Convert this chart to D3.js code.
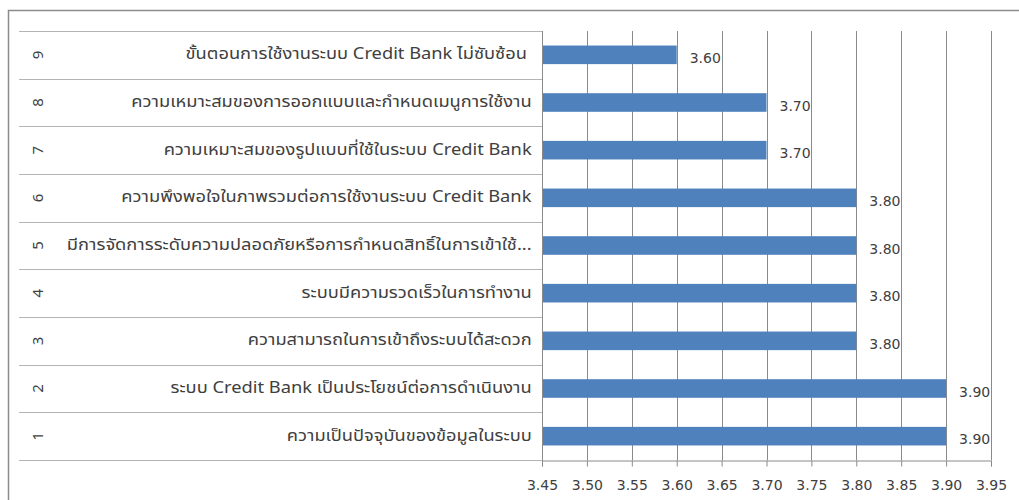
<!DOCTYPE html>
<html><head><meta charset="utf-8">
<script src="https://cdn.jsdelivr.net/npm/d3@7"></script>
<style>
html,body{margin:0;padding:0;background:#fff;}
svg{display:block;}
text{font-family:Tahoma,"Noto Sans Thai","Noto Sans","DejaVu Sans",sans-serif;fill:#404040;}
</style></head>
<body>
<svg id="chart" width="1019" height="500"></svg>
<script>
const categoryNumbers = ["9","8","7","6","5","4","3","2","1"];
const categoryLabels = [
  "ขั้นตอนการใช้งานระบบ  Credit Bank ไม่ซับซ้อน",
  "ความเหมาะสมของการออกแบบและกำหนดเมนูการใช้งาน",
  "ความเหมาะสมของรูปแบบที่ใช้ในระบบ Credit Bank",
  "ความพึงพอใจในภาพรวมต่อการใช้งานระบบ Credit Bank",
  "มีการจัดการระดับความปลอดภัยหรือการกำหนดสิทธิ์ในการเข้าใช้...",
  "ระบบมีความรวดเร็วในการทำงาน",
  "ความสามารถในการเข้าถึงระบบได้สะดวก",
  "ระบบ Credit Bank เป็นประโยชน์ต่อการดำเนินงาน",
  "ความเป็นปัจจุบันของข้อมูลในระบบ"
];
const values = [3.60, 3.70, 3.70, 3.80, 3.80, 3.80, 3.80, 3.90, 3.90];
const tickValues = [3.45, 3.50, 3.55, 3.60, 3.65, 3.70, 3.75, 3.80, 3.85, 3.90, 3.95];

const svg = d3.select("#chart");
const plot = {left: 542, right: 991, top: 31, bottom: 460};
const labelLeft = 19;
const labelRight = 532;
const labelFontSize = 15.5;
const labelStretch = 1.18;
const labelFont = `${labelFontSize}px Tahoma, "Noto Sans Thai", "Noto Sans", "DejaVu Sans", sans-serif`;

const x = d3.scaleLinear().domain([3.45, 3.95]).range([plot.left, plot.right]);
const y = d3.scaleBand().domain(categoryNumbers).range([plot.top, plot.bottom])
  .paddingInner(0.61).paddingOuter(0.305);
const step = y.step();

// outer border
svg.append("rect").attr("x", 8.5).attr("y", 10.5).attr("width", 1030).attr("height", 520)
  .attr("fill", "none").attr("stroke", "#8c8c8c").attr("stroke-width", 1.5);

// gridlines
svg.append("g").selectAll("line").data(tickValues.slice(1)).join("line")
  .attr("x1", d => Math.round(x(d)) + 0.5).attr("x2", d => Math.round(x(d)) + 0.5)
  .attr("y1", plot.top).attr("y2", plot.bottom)
  .attr("stroke", "#8a8a8a").attr("stroke-width", 1);

// category separators in label area
const bounds = categoryNumbers.map(c => y(c) - (step - y.bandwidth()) / 2);
bounds.push(plot.bottom);
svg.append("g").selectAll("line").data(bounds).join("line")
  .attr("x1", labelLeft).attr("x2", plot.left)
  .attr("y1", d => Math.round(d) + 0.5).attr("y2", d => Math.round(d) + 0.5)
  .attr("stroke", "#b4b4b4").attr("stroke-width", 1);

// bars
svg.append("g").selectAll("rect").data(values).join("rect")
  .attr("x", x(3.45) + 0.5)
  .attr("y", (d, i) => y(categoryNumbers[i]))
  .attr("width", d => x(d) - x(3.45) - 0.5)
  .attr("height", y.bandwidth())
  .attr("fill", "#4f81bd");

// x axis
const xAxis = d3.axisBottom(x).tickValues(tickValues).tickFormat(d3.format(".2f")).tickSizeOuter(0).tickSize(6).tickPadding(14);
const gx = svg.append("g").attr("transform", `translate(0,${plot.bottom + 0.5})`).call(xAxis);
gx.select(".domain").attr("stroke", "#8a8a8a");
gx.selectAll(".tick line").attr("stroke", "#8a8a8a");
gx.selectAll(".tick text").attr("font-size", 14).attr("fill", "#404040")
  .style("font-family", 'Tahoma,"DejaVu Sans",sans-serif');

// vertical axis line
svg.append("line").attr("x1", plot.left + 0.5).attr("x2", plot.left + 0.5)
  .attr("y1", plot.top).attr("y2", plot.bottom + 6)
  .attr("stroke", "#8a8a8a");

// measure the painted right edge of each label on an offscreen canvas
function paintedRight(str) {
  const c = document.createElement("canvas");
  c.width = 1400; c.height = 50;
  const ctx = c.getContext("2d");
  ctx.font = labelFont;
  ctx.textBaseline = "middle";
  ctx.fillStyle = "#000";
  const ox = 20;
  ctx.fillText(str, ox, 25);
  const data = ctx.getImageData(0, 0, c.width, c.height).data;
  let maxX = -1;
  for (let px = c.width - 1; px >= 0 && maxX < 0; px--) {
    for (let py = 0; py < c.height; py++) {
      if (data[(py * c.width + px) * 4 + 3] > 40) { maxX = px; break; }
    }
  }
  const measured = ctx.measureText(str).width;
  return maxX < 0 ? measured : Math.max(measured, maxX + 1 - ox);
}

// category labels: start-anchored so the furthest painted glyph ends at labelRight
svg.append("g").selectAll("text").data(categoryLabels).join("text")
  .attr("transform", (d, i) => `translate(${labelRight},${y(categoryNumbers[i]) + y.bandwidth() / 2}) scale(${labelStretch},1)`)
  .attr("x", d => -paintedRight(d))
  .attr("text-anchor", "start").attr("dominant-baseline", "central")
  .attr("font-size", labelFontSize)
  .text(d => d);

// rotated numbers
svg.append("g").selectAll("text").data(categoryNumbers).join("text")
  .attr("transform", d => `translate(38,${y(d) + y.bandwidth() / 2}) rotate(-90)`)
  .attr("text-anchor", "middle").attr("dominant-baseline", "central")
  .attr("font-size", 15)
  .text(d => d);

// value labels
svg.append("g").selectAll("text").data(values).join("text")
  .attr("x", d => x(d) + 13)
  .attr("y", (d, i) => y(categoryNumbers[i]) + y.bandwidth() / 2 + 3)
  .attr("dominant-baseline", "central")
  .attr("font-size", 14)
  .style("font-family", 'Tahoma,"DejaVu Sans",sans-serif')
  .text(d => d3.format(".2f")(d));
</script>
</body></html>
